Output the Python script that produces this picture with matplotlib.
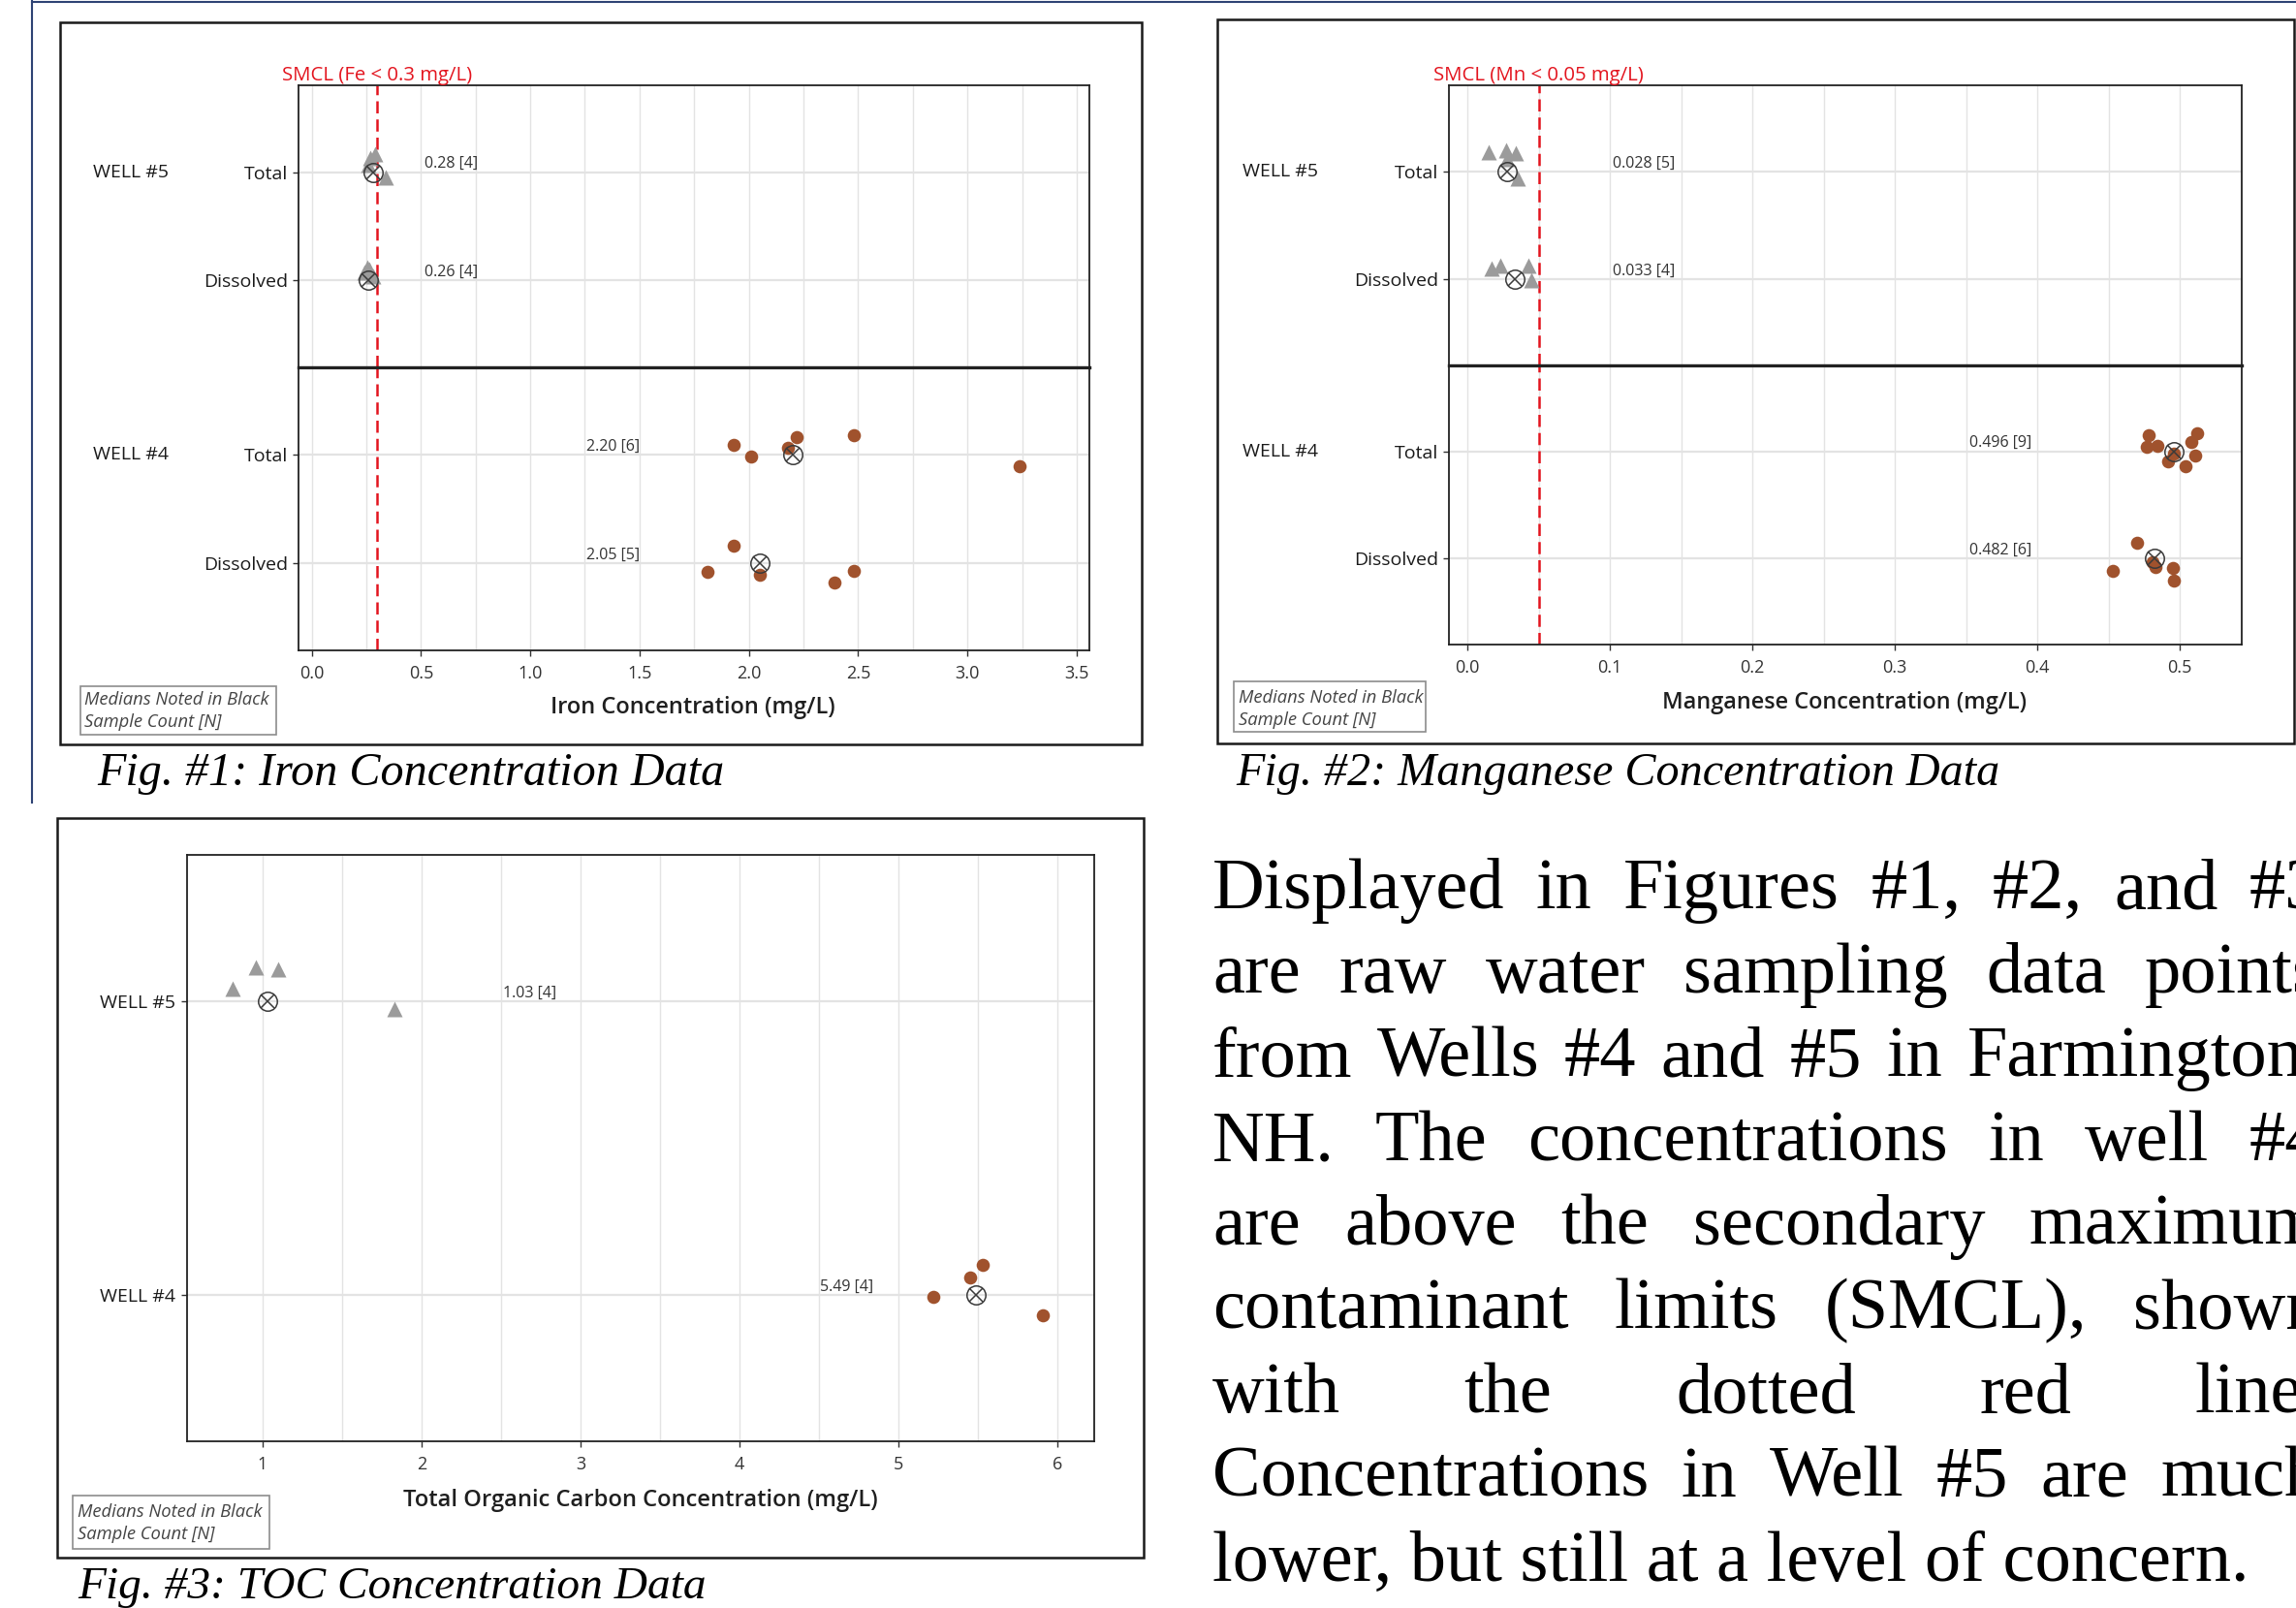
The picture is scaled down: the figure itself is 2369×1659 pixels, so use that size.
import numpy as np
import matplotlib
matplotlib.use("Agg")
import matplotlib.pyplot as plt
from matplotlib.patches import Rectangle
from matplotlib.lines import Line2D
from matplotlib.transforms import blended_transform_factory

# ---------------- data ----------------
categories = ["Total", "Dissolved"]
wells = ["WELL #5", "WELL #4"]

# Iron (mg/L)
fe_w5_total = [0.26, 0.27, 0.29, 0.34]
fe_w5_total_jit = [0.07, 0.13, 0.17, -0.05]
fe_w5_diss = [0.24, 0.255, 0.265, 0.28]
fe_w5_diss_jit = [0.08, 0.12, 0.10, 0.04]
fe_w4_total = [1.93, 2.01, 2.18, 2.22, 2.48, 3.24]
fe_w4_total_jit = [0.086, -0.015, 0.065, 0.16, 0.18, -0.107]
fe_w4_diss = [1.81, 1.93, 2.05, 2.39, 2.48]
fe_w4_diss_jit = [-0.083, 0.166, -0.104, -0.18, -0.071]
fe_smcl = 0.3
fe_ticks = [0.0, 0.5, 1.0, 1.5, 2.0, 2.5, 3.0, 3.5]
fe_tick_labels = ["0.0", "0.5", "1.0", "1.5", "2.0", "2.5", "3.0", "3.5"]

# Manganese (mg/L)
mn_w5_total = [0.015, 0.027, 0.028, 0.034, 0.035]
mn_w5_total_jit = [0.18, 0.20, 0.12, 0.17, -0.06]
mn_w5_diss = [0.017, 0.023, 0.043, 0.045]
mn_w5_diss_jit = [0.10, 0.13, 0.13, -0.01]
mn_w4_total = [0.477, 0.478, 0.484, 0.492, 0.496, 0.504, 0.508, 0.511, 0.512]
mn_w4_total_jit = [0.04, 0.15, 0.05, -0.09, -0.02, -0.135, 0.09, -0.04, 0.17]
mn_w4_diss = [0.453, 0.470, 0.481, 0.483, 0.495, 0.496]
mn_w4_diss_jit = [-0.115, 0.15, -0.03, -0.075, -0.085, -0.205]
mn_smcl = 0.05
mn_ticks = [0.0, 0.1, 0.2, 0.3, 0.4, 0.5]
mn_tick_labels = ["0.0", "0.1", "0.2", "0.3", "0.4", "0.5"]

# Total organic carbon (mg/L)
toc_w5 = [0.81, 0.96, 1.10, 1.83]
toc_w5_jit = [0.043, 0.116, 0.111, -0.026]
toc_w4 = [5.22, 5.45, 5.53, 5.91]
toc_w4_jit = [-0.006, 0.058, 0.102, -0.069]
toc_ticks = [1, 2, 3, 4, 5, 6]
toc_tick_labels = ["1", "2", "3", "4", "5", "6"]

captions = ["Fig. #1: Iron Concentration Data",
            "Fig. #2: Manganese Concentration Data",
            "Fig. #3: TOC Concentration Data"]
paragraph = ["Displayed in Figures #1, #2, and #3",
             "are raw water sampling data points",
             "from Wells #4 and #5 in Farmington,",
             "NH. The concentrations in well #4",
             "are above the secondary maximum",
             "contaminant limits (SMCL), shown",
             "with the dotted red line.",
             "Concentrations in Well #5 are  much",
             "lower, but still at a level of concern."]

# ---------------- style ----------------
SANS = ["Open Sans", "DejaVu Sans"]
SERIF = ["Liberation Serif", "DejaVu Serif"]
plt.rcParams["font.family"] = SANS
GRAY = "#9B9B9B"
BROWN = "#A0522D"
DARK = "#3A3A3A"
RED = "#E3141E"
GRID = "#E3E3E3"

W, H = 2369, 1659
fig = plt.figure(figsize=(W / 100, H / 100), dpi=100)
fig.patch.set_facecolor("white")
renderer = fig.canvas.get_renderer()


def fx(x):
    return x / W


def fy(y):
    return 1 - y / H


def px_axes(x0, y0, x1, y1):
    return fig.add_axes([x0 / W, 1 - y1 / H, (x1 - x0) / W, (y1 - y0) / H])


def fit(t, target):
    w = t.get_window_extent(renderer).width
    t.set_fontsize(t.get_fontsize() * target / w)


def box(x0, y0, x1, y1, ec="#1a1a1a", lw=1.8):
    fig.add_artist(Rectangle((fx(x0), fy(y1)), (x1 - x0) / W, (y1 - y0) / H,
                             transform=fig.transFigure, fill=False, ec=ec, lw=lw))


def style(ax, xlim, ylim, major, minor, labels, show_x):
    ax.set_xlim(xlim)
    ax.set_ylim(ylim)
    ax.set_xticks(major)
    ax.set_xticks(minor, minor=True)
    ax.grid(True, which="both", axis="x", color=GRID, lw=1.0)
    ax.grid(True, which="major", axis="y", color=GRID, lw=1.6)
    ax.set_axisbelow(True)
    for s in ax.spines.values():
        s.set_color("#222222")
        s.set_linewidth(1.3)
    ax.tick_params(which="minor", length=0)
    ax.tick_params(axis="y", length=4, width=1, color="#333333", pad=4,
                   labelsize=14, labelcolor="#1a1a1a")
    if show_x:
        ax.set_xticklabels(labels)
        ax.tick_params(axis="x", which="major", length=4, width=1, color="#333333",
                       pad=7, labelsize=13, labelcolor="#333333")
    else:
        ax.tick_params(axis="x", which="both", bottom=False, labelbottom=False)


def draw_points(ax, values, jit, row, well5):
    ys = [row - j for j in jit]
    if well5:
        ax.plot(values, ys, ls="none", marker="^", ms=11.5, color=GRAY, mec="none", zorder=3)
    else:
        ax.plot(values, ys, ls="none", marker="o", ms=9.8, color=BROWN, mec="none", zorder=3)
    med = np.median(values)
    ax.plot([med], [row], ls="none", marker="o", ms=14, mfc="none", mec=DARK, mew=1.1, zorder=4)
    ax.plot([med], [row], ls="none", marker="x", ms=9.9, mec=DARK, mew=1.1, zorder=4)
    return med


def median_label(ax, lx, row, med, n, fmt):
    ax.annotate(f"{med:{fmt}} [{n}]", xy=(lx, row), xytext=(0, 6), textcoords="offset points",
                ha="left", va="center", fontsize=11.5, color="#333333", zorder=5)


def legend_box(x0, y0, x1, y1, ty1, ty2, tx):
    box(x0, y0, x1, y1, ec="#8c8c8c", lw=1.2)
    t1 = fig.text(fx(tx), fy(ty1), "Medians Noted in Black", style="italic", fontsize=12,
                  color="#444444", ha="left", va="center")
    fit(t1, 190)
    fig.text(fx(tx), fy(ty2), "Sample Count [N]", style="italic", fontsize=t1.get_fontsize(),
             color="#444444", ha="left", va="center")


def facet_figure(tops, bots, xlim, major, minor, labels, rows, smcl, smcl_text, smcl_w,
                 label_x, fmt, strip_x):
    ylim = (1.8, -0.8)
    ax_t = px_axes(*tops)
    ax_b = px_axes(*bots)
    style(ax_t, xlim, ylim, major, minor, labels, False)
    style(ax_b, xlim, ylim, major, minor, labels, True)
    for ax in (ax_t, ax_b):
        ax.set_yticks([0, 1])
        ax.set_yticklabels(categories)
        ax.axvline(smcl, color=RED, lw=1.8, ls=(0, (5, 2.5)), zorder=2)
    ax_t.spines["bottom"].set_linewidth(2.3)
    ax_b.spines["top"].set_linewidth(2.3)
    for k, ax in enumerate((ax_t, ax_b)):
        for r in range(2):
            vals, jit = rows[k][r]
            med = draw_points(ax, vals, jit, r, k == 0)
            median_label(ax, label_x[k], r, med, len(vals), fmt)
        tr = blended_transform_factory(fig.transFigure, ax.transData)
        ax.text(fx(strip_x), 0, wells[k], transform=tr, ha="left", va="center",
                fontsize=14, color="#1a1a1a")
    t = ax_t.text(smcl, 1.033, smcl_text, transform=ax_t.get_xaxis_transform(),
                  ha="center", va="center", color=RED, fontsize=13.5)
    fit(t, smcl_w)
    return ax_t, ax_b


# ---------------- outer frame ----------------
fig.add_artist(Line2D([fx(33), fx(33)], [fy(0), fy(828)], transform=fig.transFigure,
                      color="#2E4374", lw=1.5))
fig.add_artist(Line2D([fx(33), 1.0], [fy(1.5), fy(1.5)], transform=fig.transFigure,
                      color="#2E4374", lw=1.5))

box(62, 23, 1178, 768)
box(1256, 20, 2367, 767)
box(59, 844, 1180, 1607)

# ---------------- Fig 1: Iron ----------------
facet_figure((308.5, 88, 1124, 379), (308.5, 379, 1124, 671), (-0.058, 3.558),
             fe_ticks, np.arange(0.25, 3.5, 0.5), fe_tick_labels,
             [[(fe_w5_total, fe_w5_total_jit), (fe_w5_diss, fe_w5_diss_jit)],
              [(fe_w4_total, fe_w4_total_jit), (fe_w4_diss, fe_w4_diss_jit)]],
             fe_smcl, "SMCL (Fe < 0.3 mg/L)", 197, [0.516, 1.256], ".2f", 96)
t = fig.text(fx(714.5), fy(730), "Iron Concentration (mg/L)", ha="center", va="center",
             fontsize=15.5, fontweight="semibold", color="#1f1f1f")
fit(t, 294)
legend_box(83, 708, 285, 758, 722, 745, 87)

# ---------------- Fig 2: Manganese ----------------
facet_figure((1495, 88, 2313, 377), (1495, 377, 2313, 665), (-0.0131, 0.5435),
             mn_ticks, np.arange(0.05, 0.55, 0.1), mn_tick_labels,
             [[(mn_w5_total, mn_w5_total_jit), (mn_w5_diss, mn_w5_diss_jit)],
              [(mn_w4_total, mn_w4_total_jit), (mn_w4_diss, mn_w4_diss_jit)]],
             mn_smcl, "SMCL (Mn < 0.05 mg/L)", 217, [0.102, 0.352], ".3f", 1282)
t = fig.text(fx(1903), fy(725), "Manganese Concentration (mg/L)", ha="center", va="center",
             fontsize=15.5, fontweight="semibold", color="#1f1f1f")
fit(t, 376)
legend_box(1273, 703, 1471, 755, 720, 743, 1278)

# ---------------- Fig 3: TOC ----------------
ax3 = px_axes(192.6, 882, 1129, 1487)
style(ax3, (0.523, 6.232), (1.5, -0.5), toc_ticks, np.arange(1.5, 6.5, 1.0),
      toc_tick_labels, True)
ax3.set_yticks([0, 1])
ax3.set_yticklabels(wells)
for r, (vals, jit, lx) in enumerate([(toc_w5, toc_w5_jit, 2.51), (toc_w4, toc_w4_jit, 4.507)]):
    med = draw_points(ax3, vals, jit, r, r == 0)
    median_label(ax3, lx, r, med, len(vals), ".2f")
t = fig.text(fx(660.6), fy(1548), "Total Organic Carbon Concentration (mg/L)", ha="center",
             va="center", fontsize=15.5, fontweight="semibold", color="#1f1f1f")
fit(t, 491)
legend_box(75, 1543, 278, 1598, 1560, 1583, 80)

# ---------------- captions ----------------
for (cx, cy, cw), cap in zip([(100, 810, 648), (1275, 810, 788), (80, 1649, 649)], captions):
    t = fig.text(fx(cx), fy(cy), cap, ha="left", va="baseline", style="italic",
                 fontfamily=SERIF, fontsize=34, color="black")
    fit(t, cw)

# ---------------- paragraph (justified, runs past the right edge as in the source) ----------------
L, R = 1251, 2395
base0, step = 937, 86.7
probe = fig.text(0, 0, paragraph[-1], fontfamily=SERIF, fontsize=48)
fit(probe, 1069)
psize = probe.get_fontsize()
probe.remove()
for i, line in enumerate(paragraph):
    y = fy(base0 + i * step)
    if i == len(paragraph) - 1:
        fig.text(fx(L), y, line, fontfamily=SERIF, fontsize=psize, va="baseline", ha="left")
        continue
    words = line.split()
    texts = [fig.text(0, y, w, fontfamily=SERIF, fontsize=psize, va="baseline", ha="left")
             for w in words]
    widths = [tt.get_window_extent(renderer).width for tt in texts]
    gap = (R - L - sum(widths)) / max(len(words) - 1, 1)
    x = L
    for tt, w in zip(texts, widths):
        tt.set_x(fx(x))
        x += w + gap

fig.savefig("out.png", dpi=100, facecolor="white")
